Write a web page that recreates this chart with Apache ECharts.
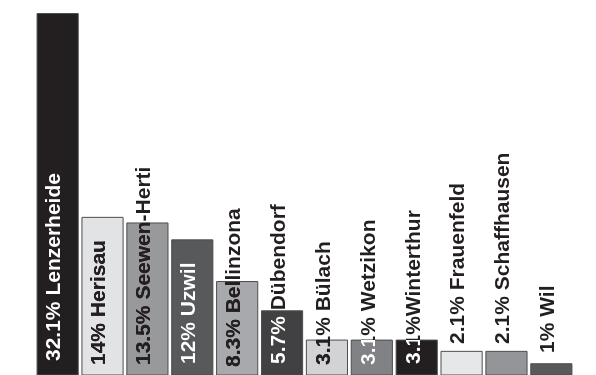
<!DOCTYPE html>
<html><head><meta charset="utf-8">
<script src="https://cdn.jsdelivr.net/npm/echarts@6/dist/echarts.min.js"></script>
<style>html,body{margin:0;padding:0;background:#fff}#c{width:596px;height:375px}</style>
</head><body><div id="c"></div>
<script>
const categories = ['Lenzerheide','Herisau','Seewen-Herti','Uzwil','Bellinzona','Dübendorf','Bülach','Wetzikon','Winterthur','Frauenfeld','Schaffhausen','Wil'];
const values = [32.1, 14, 13.5, 12, 8.3, 5.7, 3.1, 3.1, 3.1, 2.1, 2.1, 1];
const labels = ['32.1% Lenzerheide','14% Herisau','13.5% Seewen-Herti','12% Uzwil','8.3% Bellinzona','5.7% Dübendorf','3.1% Bülach','3.1% Wetzikon','3.1%Winterthur','2.1% Frauenfeld','2.1% Schaffhausen','1% Wil'];
const barColors = ['#231f20','#e2e3e4','#98999b','#58595b','#a7a9ac','#414042','#d1d3d4','#808285','#231f20','#e6e7e8','#939598','#58595b'];
const insideTextColors = ['#ffffff','#231f20','#231f20','#ffffff','#231f20','#ffffff','#231f20','#ffffff','#ffffff','#231f20','#231f20','#ffffff'];
// label start distance above the baseline (px), as placed in the original
const labelLift = [14, 10, 10, 11, 8, 11, 10, 10, 11, 31, 31, 22];

const FONT = 'bold 21px "Liberation Sans", Arial, Helvetica, sans-serif';

function renderItem(params, api) {
  const i = params.dataIndex;
  const v = api.value(1);
  const top = api.coord([i, v]);
  const base = api.coord([i, 0]);
  const bw = api.size([1, 0])[0] * 0.917;
  const rect = { x: top[0] - bw / 2, y: top[1], width: bw, height: base[1] - top[1] };
  const tx = top[0] - 3, ty = base[1] - labelLift[i];
  const mkText = (fill) => ({
    type: 'text', x: tx, y: ty, rotation: Math.PI / 2,
    style: { text: labels[i], x: 0, y: 0, fill: fill, font: FONT, align: 'left', verticalAlign: 'middle' }
  });
  return {
    type: 'group',
    children: [
      { type: 'rect', shape: rect, style: { fill: barColors[i], stroke: '#4d4d4f', lineWidth: 1 } },
      mkText('#231f20'),
      { type: 'group', clipPath: { type: 'rect', shape: rect }, children: [mkText(insideTextColors[i])] }
    ]
  };
}

const chart = echarts.init(document.getElementById('c'), null, { renderer: 'canvas' });
chart.setOption({
  animation: false,
  grid: { left: 35.2, right: 22.2, top: 3.4, height: 372.9 },
  xAxis: { type: 'category', data: categories, show: false },
  yAxis: { type: 'value', min: 0, max: 33, show: false },
  series: [{
    type: 'custom',
    renderItem: renderItem,
    data: values.map((v, i) => [i, v]),
    clip: false
  }]
});
</script>
</body></html>
